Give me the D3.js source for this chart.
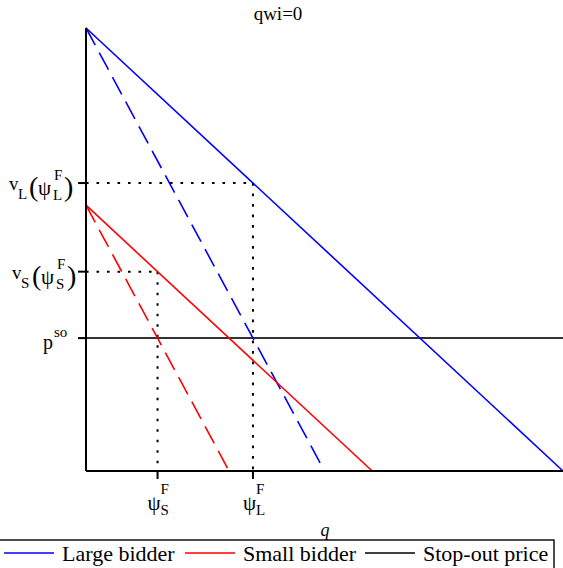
<!DOCTYPE html>
<html>
<head>
<meta charset="utf-8">
<script src="https://cdn.jsdelivr.net/npm/d3@7"></script>
<style>
  html, body { margin: 0; padding: 0; background: #fff; }
  svg { display: block; font-family: "Liberation Serif", "Times New Roman", serif; }
</style>
</head>
<body>
<div id="chart"></div>
<script>
// Quantity q on the x axis, price / valuation on the y axis (both normalised to [0, 1]).
const largeValue    = [[0, 1.0], [1.0, 0]];   // large bidder valuation v_L(q)
const largeMarginal = [[0, 1.0], [0.5, 0]];   // large bidder bid schedule
const smallValue    = [[0, 0.6], [0.6, 0]];   // small bidder valuation v_S(q)
const smallMarginal = [[0, 0.6], [0.3, 0]];   // small bidder bid schedule
const stopOutPrice  = 0.3;

// Equilibrium quantities and the valuations at those quantities
const psiValues   = [0.15, 0.35];             // ψ_S^F, ψ_L^F
const psiNames    = ["S", "L"];
const vAtPsi      = [0.45, 0.65];             // v_S(ψ_S^F), v_L(ψ_L^F)

const titleText   = "qwi=0";
const legendNames = ["Large bidder", "Small bidder", "Stop-out price"];
const legendColors = ["#0000ff", "#ff0000", "#000000"];

const W = 563, H = 568;
const svg = d3.select("#chart").append("svg").attr("width", W).attr("height", H);

const x = d3.scaleLinear().domain([0, 1]).range([86, 563]);
const y = d3.scaleLinear().domain([0, 1]).range([471, 28]);
const line = d3.line().x(d => x(d[0])).y(d => y(d[1]));

const DOT = "2.6,7.9";
const LONGDASH = "19.5,8.4";

// Title
svg.append("text").attr("x", 278).attr("y", 20).attr("text-anchor", "middle")
  .attr("font-size", 19).text(titleText);

// Guide lines from the axes to the equilibrium points
psiValues.forEach((p, i) => {
  svg.append("path").attr("d", line([[0, vAtPsi[i]], [p, vAtPsi[i]]]))
    .attr("fill", "none").attr("stroke", "#000").attr("stroke-width", 2).attr("stroke-dasharray", DOT);
  svg.append("path").attr("d", line([[p, vAtPsi[i]], [p, 0]]))
    .attr("fill", "none").attr("stroke", "#000").attr("stroke-width", 2).attr("stroke-dasharray", DOT);
});

// Stop-out price
svg.append("path").attr("d", line([[0, stopOutPrice], [1, stopOutPrice]]))
  .attr("stroke", "#333").attr("stroke-width", 2).attr("fill", "none");

// Bidder curves
const curves = [
  { pts: largeValue, color: "#0000ff", dash: null },
  { pts: largeMarginal, color: "#0000ff", dash: LONGDASH },
  { pts: smallValue, color: "#ff0000", dash: null },
  { pts: smallMarginal, color: "#ff0000", dash: LONGDASH }
];
curves.forEach(c => {
  svg.append("path").attr("d", line(c.pts)).attr("fill", "none")
    .attr("stroke", c.color).attr("stroke-width", 1.6)
    .attr("stroke-dasharray", c.dash);
});

// Axes
svg.append("line").attr("x1", x(0)).attr("x2", x(0)).attr("y1", y(1)).attr("y2", y(0))
  .attr("stroke", "#000").attr("stroke-width", 2);
svg.append("line").attr("x1", x(0)).attr("x2", x(1)).attr("y1", y(0)).attr("y2", y(0))
  .attr("stroke", "#000").attr("stroke-width", 2);

// Y ticks
const yTicks = [vAtPsi[1], vAtPsi[0], stopOutPrice];
yTicks.forEach(v => {
  svg.append("line").attr("x1", x(0) - 8).attr("x2", x(0)).attr("y1", y(v)).attr("y2", y(v))
    .attr("stroke", "#000").attr("stroke-width", 2);
});
// X ticks
psiValues.forEach(p => {
  svg.append("line").attr("x1", x(p)).attr("x2", x(p)).attr("y1", y(0)).attr("y2", y(0) + 8)
    .attr("stroke", "#000").attr("stroke-width", 2);
});

// Helper: draw a formula label out of pieces positioned relative to an anchor
function formula(gx, gy, pieces) {
  const g = svg.append("g").attr("transform", `translate(${gx},${gy})`);
  pieces.forEach(p => {
    g.append("text").attr("x", p[1]).attr("y", p[2]).attr("font-size", p[3]).text(p[0]);
  });
}

// v_sub(ψ_sub^F) labels on the y axis
[1, 0].forEach(i => {
  const s = psiNames[i];
  const dx = s === "L" ? 0 : 3;
  formula(0, y(vAtPsi[i]), [
    ["v", 9 + dx, 7, 19],
    [s, 18 + dx, 16, 15],
    ["(", 29 + dx, 13, 28],
    ["ψ", 38 + dx, 12, 21],
    ["F", 54 + dx, -3, 15],
    [s, 53 + dx, 17, 15],
    [")", 64 + dx, 13, 28]
  ]);
});
// p^so label
formula(0, y(stopOutPrice), [
  ["p", 43, 11, 20],
  ["so", 54, -1, 15]
]);

// ψ^F labels on the x axis
psiValues.forEach((p, i) => {
  formula(x(p), y(0), [
    ["ψ", -10, 39, 21],
    ["F", 3, 23, 15],
    [psiNames[i], 3, 44, 15]
  ]);
});

// x axis title
svg.append("text").attr("x", 325).attr("y", 536).attr("text-anchor", "middle")
  .attr("font-size", 18).attr("font-style", "italic").text("q");

// Legend
svg.append("rect").attr("x", -1).attr("y", 540).attr("width", 555).attr("height", 40)
  .attr("fill", "none").attr("stroke", "#000").attr("stroke-width", 1.4);
const legX = [4, 185, 365];
legendNames.forEach((name, i) => {
  svg.append("line").attr("x1", legX[i]).attr("x2", legX[i] + 50).attr("y1", 553).attr("y2", 553)
    .attr("stroke", legendColors[i]).attr("stroke-width", 1.6);
  svg.append("text").attr("x", legX[i] + 58).attr("y", 561).attr("font-size", 22).text(name);
});
</script>
</body>
</html>
